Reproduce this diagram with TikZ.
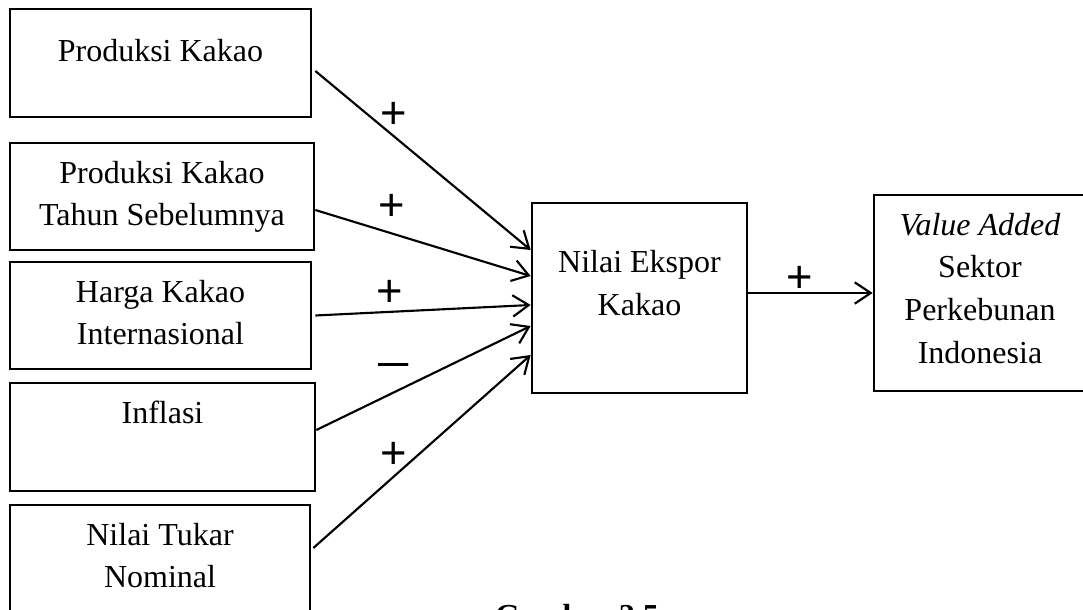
\documentclass[tikz,border=0pt]{standalone}
\usepackage{fontspec}
\setmainfont{Liberation Serif}
\newfontfamily\signfont{Liberation Sans}
\usetikzlibrary{arrows.meta,calc}
\newcommand\mystrut{\rule{0pt}{18pt}}
\tikzset{
  box/.style={draw, line width=2pt, inner sep=0pt, rectangle},
  lbl/.style={anchor=north, inner sep=0pt, align=center, font=\fontsize{24}{31.5}\selectfont},
  sign/.style={inner sep=0pt, font=\signfont\fontsize{34}{34}\selectfont},
  link/.style={line width=1.6pt, -{Straight Barb[length=12pt,width=16pt,line width=1.6pt]}}
}
\begin{document}
\begin{tikzpicture}[x=0.75pt,y=-0.75pt]
\useasboundingbox (0,0) rectangle (1083,610);
% boxes
\node[box, minimum width=301*0.75pt, minimum height=108*0.75pt] (b1) at (160.5,63) {};
\node[box, minimum width=304*0.75pt, minimum height=107*0.75pt] (b2) at (162,196.5) {};
\node[box, minimum width=301*0.75pt, minimum height=107*0.75pt] (b3) at (160.5,315.5) {};
\node[box, minimum width=305*0.75pt, minimum height=108*0.75pt] (b4) at (162.5,437) {};
\node[box, minimum width=300*0.75pt, minimum height=135*0.75pt] (b5) at (160,572.5) {};
\node[box, minimum width=215*0.75pt, minimum height=190*0.75pt] (c) at (639.5,298) {};
\node[box, minimum width=212*0.75pt, minimum height=196*0.75pt] (r) at (980,293) {};
% labels
\node[lbl] (t1) at (160.5,37) {\mystrut Produksi Kakao};
\node[lbl] (t2) at (162,159) {\mystrut Produksi Kakao\\Tahun Sebelumnya};
\node[lbl] (t3) at (160.5,278) {\mystrut Harga Kakao\\Internasional};
\node[lbl] (t4) at (162.5,399) {\mystrut Inflasi};
\node[lbl] (t5) at (160,521) {\mystrut Nilai Tukar\\Nominal};
\node[lbl, font=\fontsize{24}{32.25}\selectfont] (tc) at (639.5,248) {\mystrut Nilai Ekspor\\Kakao};
\node[lbl, font=\fontsize{24}{32}\selectfont] (tr) at (980,211) {\mystrut\textit{Value Added}\\Sektor\\Perkebunan\\Indonesia};
\node[anchor=base, inner sep=0pt, font=\fontsize{24}{28}\selectfont\bfseries] (cap) at (577,626) {Gambar 2.5};
% connectors
\draw[link] ($(b1.east)+(3,8)$) -- ($(c.west)+(0,-48)$);
\draw[link] ($(b2.east)+(0,13.5)$) -- ($(c.west)+(0,-22)$);
\draw[link] ($(b3.east)+(3,0)$) -- ($(c.west)+(0,7)$);
\draw[link] ($(b4.east)+(0,-7)$) -- ($(c.west)+(0,28)$);
\draw[link] ($(b5.east)+(2,-24.5)$) -- ($(c.west)+(0,57)$);
\draw[link] ($(c.east)+(0,-5)$) -- (r.west);
% signs
\node[sign] (s1) at (394,115) {+};
\node[sign] (s2) at (392,207) {+};
\node[sign] (s3) at (390,293) {+};
\node[sign] (s4) at (394,370) {\scalebox{1.2}[1]{–}};
\node[sign] (s5) at (394,455) {+};
\node[sign] (s6) at (800,279) {+};
\end{tikzpicture}
\end{document}
